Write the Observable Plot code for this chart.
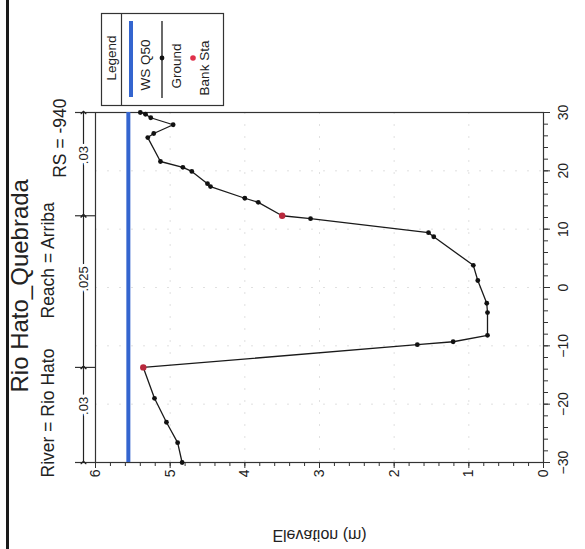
<!DOCTYPE html>
<html><head><meta charset="utf-8">
<script src="https://cdn.jsdelivr.net/npm/d3@7"></script>
<script src="https://cdn.jsdelivr.net/npm/@observablehq/plot@0.6"></script>
<style>
html,body{margin:0;padding:0;background:#fff;}
#wrap{position:relative;width:585px;height:549px;overflow:hidden;background:#fff;}
#edge{position:absolute;left:6px;top:0;width:3px;height:549px;background:#1a1a1a;}
#wrap svg{position:absolute;left:0;top:0;}
</style></head><body><div id="wrap"><div id="edge"></div></div>
<script>
// ---- data ----
const title = "Rio Hato_Quebrada";
const subtitleParts = ["River = Rio Hato", "Reach = Arriba", "RS = -940"];
const station = [-30, -26.6, -23.1, -19.0, -13.7, -9.8, -9.3, -8.2, -4.3, -2.7, 1.2, 3.8, 8.7, 9.4, 11.8, 12.3, 14.6, 15.3, 17.3, 17.8, 19.9, 20.6, 21.6, 25.7, 26.4, 27.9, 29.1, 29.7, 30];
const elevation = [4.84, 4.90, 5.05, 5.21, 5.36, 1.69, 1.21, 0.75, 0.75, 0.76, 0.88, 0.94, 1.47, 1.54, 3.12, 3.50, 3.82, 4.00, 4.46, 4.50, 4.71, 4.83, 5.13, 5.30, 5.22, 4.96, 5.26, 5.33, 5.40];
const bankStation = [-13.7, 12.3];
const bankElevation = [5.36, 3.50];
const wsName = "WS Q50";
const wsElevation = [5.56];
const nValues = [".03", ".025", ".03"];
const elevTicks = [0, 1, 2, 3, 4, 5, 6];
const stationTicks = [-30, -20, -10, 0, 10, 20, 30];
const xLabel = "Elevation (m)";
const legendLabels = ["Legend", "WS Q50", "Ground", "Bank Sta"];

// ---- derived tables ----
const ground = station.map((s, i) => ({s, e: elevation[i]}));
const banks = bankStation.map((s, i) => ({s, e: bankElevation[i]}));
const bounds = [d3.min(station), ...bankStation, d3.max(station)];
const nSegs = nValues.map((n, i) => ({n, from: bounds[i], to: bounds[i + 1], mid: (bounds[i] + bounds[i + 1]) / 2}));
const elevMinor = d3.range(0, 6.001, 0.2).map(v => +v.toFixed(1));
const stationMinor = d3.range(-30, 31, 2);

const W = 585, H = 549, ML = 95, MR = 42, MT = 112, MB = 87;
const frameW = W - ML - MR;
const FONT = "Arial, 'Liberation Sans', sans-serif";
const INK = "#222";

const chart = Plot.plot({
  width: W, height: H,
  marginLeft: ML, marginRight: MR, marginTop: MT, marginBottom: MB,
  style: {fontFamily: FONT, fontSize: "14px", color: INK, background: "transparent", overflow: "visible"},
  x: {domain: [6, 0]},
  y: {domain: [-30, 30]},
  marks: [
    Plot.gridX(elevTicks, {stroke: "#999", strokeOpacity: 0.3, strokeDasharray: "2,10"}),
    Plot.gridY(stationTicks, {stroke: "#999", strokeOpacity: 0.3, strokeDasharray: "2,10"}),
    Plot.frame({stroke: "#333", strokeWidth: 1.2}),
    Plot.axisX(elevMinor, {anchor: "bottom", tickSize: 4, tickFormat: () => "", label: null, stroke: "#333"}),
    Plot.axisX(elevTicks, {anchor: "bottom", tickSize: 6, tickPadding: 1, tickRotate: -90, fontSize: 14, label: null, stroke: "#333"}),
    Plot.axisY(stationMinor, {anchor: "right", tickSize: 4, tickFormat: () => "", label: null, stroke: "#333"}),
    Plot.axisY(stationTicks, {anchor: "right", tickSize: 6, tickPadding: 18, tickRotate: -90, fontSize: 14, label: null, stroke: "#333"}),
    // water surface
    Plot.ruleX(wsElevation, {x: d => d, stroke: "#3465cf", strokeWidth: 4}),
    // ground
    Plot.line(ground, {x: "e", y: "s", stroke: "#1a1a1a", strokeWidth: 1.3}),
    Plot.dot(ground, {x: "e", y: "s", r: 2.4, fill: "#111", stroke: "none"}),
    Plot.dot(banks, {x: "e", y: "s", r: 3.2, fill: "#b8283c", stroke: "none"}),
    // Manning's n annotation
    Plot.tickY(bounds, {y: d => d, insetLeft: -20, insetRight: frameW, stroke: "#333", strokeWidth: 1.2}),
    Plot.link(nSegs, {x1: () => 6, x2: () => 6, y1: "from", y2: "to", dx: -12, stroke: "#222", strokeWidth: 1.2, markerStart: "arrow", markerEnd: "arrow"}),
    Plot.text(nSegs, {y: "mid", text: "n", frameAnchor: "left", dx: -12, rotate: -90, fontSize: 13, fill: INK, stroke: "white", strokeWidth: 6, paintOrder: "stroke"}),
    // titles
    Plot.text([title], {text: d => d, frameAnchor: "bottom-left", dx: -68, dy: -70, rotate: -90, textAnchor: "start", fontSize: 24, fill: INK}),
    Plot.text([subtitleParts[0]], {text: d => d, frameAnchor: "bottom-left", dx: -42, dy: 15, rotate: -90, textAnchor: "start", fontSize: 17.5, fill: INK}),
    Plot.text([subtitleParts[1]], {text: d => d, frameAnchor: "bottom-left", dx: -42, dy: -144, rotate: -90, textAnchor: "start", fontSize: 17.5, fill: INK}),
    Plot.text([subtitleParts[2]], {text: d => d, frameAnchor: "top-left", dx: -42, dy: -14, rotate: -90, textAnchor: "end", fontSize: 17.5, fill: INK}),
    Plot.text([xLabel], {text: d => d, frameAnchor: "bottom", dy: 78, fontSize: 16, fill: INK})
  ]
});
document.getElementById("wrap").appendChild(chart);

// flip the axis title vertically, as in the scanned reference
(function flipLabel() {
  const svgNS = "http://www.w3.org/2000/svg";
  const node = Array.from(chart.querySelectorAll("text")).find(t => t.textContent === xLabel);
  if (!node) return;
  const markGroup = node.closest("g") && node.closest("g") !== chart ? node.closest("g") : node;
  const r = markGroup.getBoundingClientRect();
  const s = chart.getBoundingClientRect();
  const cy = r.top - s.top + r.height / 2;
  const wrapper = document.createElementNS(svgNS, "g");
  wrapper.setAttribute("transform", `translate(0,${2 * cy}) scale(1,-1)`);
  markGroup.parentNode.insertBefore(wrapper, markGroup);
  wrapper.appendChild(markGroup);
})();

// legend box (drawn into the same SVG)
const L = d3.select(chart).append("g").attr("font-family", FONT).attr("fill", INK).attr("font-size", 13);
L.append("rect").attr("x", 101.5).attr("y", 13.5).attr("width", 122).attr("height", 92)
  .attr("fill", "white").attr("stroke", "#333").attr("stroke-width", 1.2);
L.append("line").attr("x1", 121.5).attr("x2", 121.5).attr("y1", 13.5).attr("y2", 105.5).attr("stroke", "#333").attr("stroke-width", 1.2);
const vtext = (x, y, t, size) => L.append("text").attr("transform", `translate(${x},${y}) rotate(-90)`)
  .attr("text-anchor", "middle").attr("dy", "0.35em").attr("font-size", size).text(t);
vtext(111.5, 58, legendLabels[0], 13.5);
L.append("line").attr("x1", 131).attr("x2", 131).attr("y1", 21).attr("y2", 97).attr("stroke", "#3465cf").attr("stroke-width", 4);
vtext(145, 65, legendLabels[1], 13.5);
L.append("line").attr("x1", 162).attr("x2", 162).attr("y1", 21).attr("y2", 98).attr("stroke", "#1a1a1a").attr("stroke-width", 1.3);
L.append("circle").attr("cx", 162).attr("cy", 58).attr("r", 2.4).attr("fill", "#111");
vtext(176, 66, legendLabels[2], 13.5);
L.append("circle").attr("cx", 193).attr("cy", 58).attr("r", 2.8).attr("fill", "#e0304a");
vtext(204, 68, legendLabels[3], 13.5);
</script></body></html>
